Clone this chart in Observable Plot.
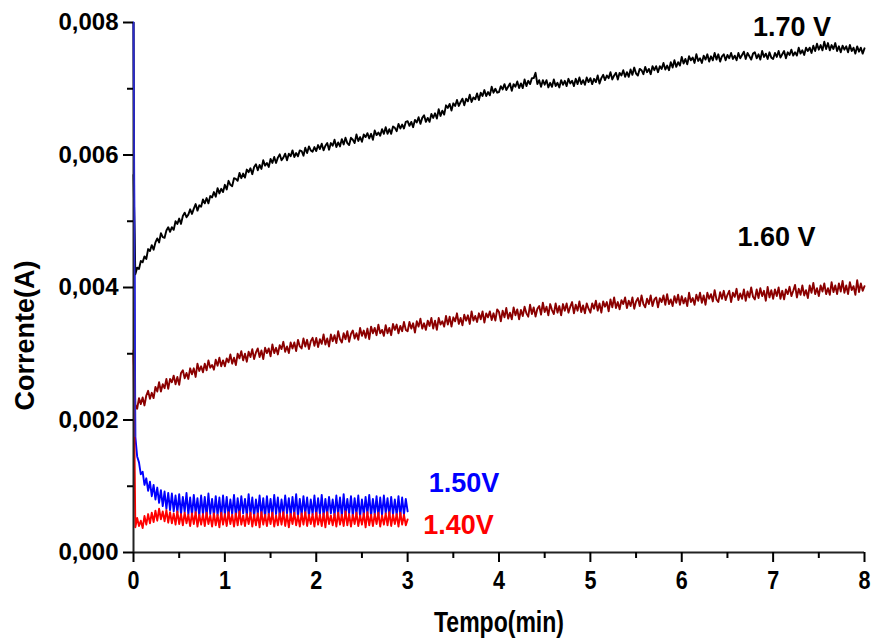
<!DOCTYPE html>
<html>
<head>
<meta charset="utf-8">
<script src="https://cdn.jsdelivr.net/npm/d3@7"></script>
<script src="https://cdn.jsdelivr.net/npm/@observablehq/plot@0.6"></script>
<style>
  html, body { margin: 0; padding: 0; background: #fff; }
</style>
</head>
<body>
<div id="chart"></div>
<script>
// sampling step of the recorded curves (min)
const step = 0.02;

// Corrente (mA), one value every 0.02 min (row = 1 min)
const v170 = [
  5.70,4.20,4.30,4.28,4.40,4.38,4.47,4.43,4.58,4.55,4.64,4.57,4.68,4.74,4.68,4.82,4.76,4.75,4.86,4.91,4.84,4.91,4.87,5.00,4.96,
  5.04,4.96,5.08,5.13,5.06,5.10,5.18,5.11,5.19,5.26,5.16,5.24,5.22,5.33,5.27,5.35,5.27,5.38,5.36,5.44,5.37,5.50,5.42,5.49,5.44,
  5.55,5.48,5.61,5.55,5.53,5.65,5.64,5.61,5.73,5.65,5.72,5.66,5.78,5.74,5.80,5.71,5.82,5.86,5.77,5.85,5.79,5.92,5.84,5.88,5.82,
  5.94,5.88,5.97,5.88,5.96,6.01,5.92,5.96,6.02,5.92,6.02,5.98,6.07,5.97,6.03,5.98,6.07,6.06,5.99,6.11,6.03,6.13,6.07,6.05,6.12,
  6.06,6.15,6.09,6.17,6.07,6.14,6.18,6.08,6.18,6.14,6.23,6.12,6.19,6.13,6.24,6.16,6.26,6.18,6.15,6.26,6.23,6.18,6.31,6.21,6.27,
  6.20,6.31,6.27,6.33,6.25,6.32,6.23,6.37,6.30,6.34,6.29,6.39,6.32,6.42,6.32,6.39,6.32,6.43,6.41,6.36,6.47,6.40,6.46,6.40,6.50,
  6.51,6.44,6.50,6.42,6.53,6.49,6.57,6.47,6.56,6.60,6.50,6.56,6.50,6.62,6.56,6.63,6.55,6.69,6.59,6.67,6.61,6.75,6.71,6.77,6.67,
  6.78,6.74,6.83,6.74,6.80,6.85,6.75,6.85,6.81,6.91,6.80,6.87,6.84,6.93,6.83,6.94,6.89,6.98,6.89,6.95,6.90,7.03,6.94,7.00,6.94,
  6.95,7.04,6.99,7.07,6.98,7.03,7.08,6.97,7.07,7.03,7.11,7.01,7.08,7.01,7.14,7.04,7.12,7.07,7.16,7.16,7.24,7.07,7.13,7.03,7.13,
  7.06,7.13,7.02,7.09,7.03,7.14,7.04,7.09,7.02,7.13,7.06,7.12,7.04,7.15,7.08,7.12,7.04,7.15,7.07,7.17,7.07,7.13,7.06,7.17,7.10,
  7.16,7.07,7.15,7.10,7.20,7.08,7.16,7.21,7.13,7.20,7.16,7.25,7.14,7.20,7.24,7.14,7.24,7.20,7.28,7.18,7.25,7.18,7.29,7.21,7.32,
  7.23,7.20,7.30,7.28,7.22,7.33,7.25,7.30,7.22,7.34,7.28,7.34,7.25,7.34,7.30,7.39,7.29,7.35,7.28,7.40,7.32,7.43,7.33,7.40,7.35,
  7.48,7.38,7.45,7.37,7.49,7.43,7.47,7.39,7.52,7.42,7.46,7.39,7.50,7.44,7.52,7.41,7.49,7.43,7.54,7.44,7.52,7.41,7.49,7.52,7.43,
  7.51,7.46,7.54,7.45,7.50,7.43,7.54,7.46,7.51,7.56,7.45,7.54,7.49,7.44,7.53,7.55,7.46,7.52,7.44,7.57,7.48,7.53,7.45,7.55,7.47,
  7.45,7.54,7.48,7.57,7.47,7.52,7.57,7.46,7.55,7.51,7.59,7.50,7.55,7.50,7.62,7.53,7.58,7.51,7.62,7.57,7.62,7.54,7.65,7.57,7.68,
  7.59,7.66,7.58,7.71,7.60,7.69,7.58,7.66,7.60,7.69,7.57,7.64,7.55,7.65,7.59,7.64,7.55,7.66,7.57,7.62,7.53,7.64,7.56,7.62,7.53,
  7.61
];
const v160 = [
  3.00,2.23,2.17,2.33,2.24,2.34,2.22,2.37,2.44,2.32,2.41,2.33,2.50,2.43,2.57,2.43,2.54,2.48,2.62,2.47,2.62,2.57,2.67,2.54,2.65,
  2.53,2.71,2.75,2.63,2.71,2.62,2.78,2.69,2.78,2.65,2.85,2.74,2.81,2.72,2.85,2.75,2.90,2.79,2.83,2.76,2.91,2.82,2.94,2.81,2.90,
  2.81,2.93,2.87,2.99,2.85,2.94,2.83,3.00,2.93,3.04,2.90,3.00,2.88,3.03,2.95,3.07,2.92,3.02,3.08,2.95,3.05,2.92,3.09,3.01,3.08,
  2.96,3.14,3.01,3.09,2.99,3.13,3.07,3.18,3.03,3.11,3.01,3.17,3.08,3.17,3.04,3.21,3.11,3.08,3.23,3.11,3.21,3.07,3.19,3.24,3.12,
  3.24,3.10,3.22,3.15,3.29,3.14,3.23,3.11,3.29,3.19,3.28,3.16,3.34,3.22,3.17,3.31,3.22,3.34,3.18,3.30,3.35,3.23,3.31,3.21,3.39,
  3.27,3.35,3.24,3.38,3.22,3.41,3.31,3.39,3.28,3.44,3.31,3.36,3.27,3.43,3.31,3.39,3.28,3.45,3.36,3.44,3.31,3.42,3.34,3.48,3.36,
  3.34,3.48,3.38,3.46,3.32,3.49,3.41,3.53,3.38,3.46,3.36,3.50,3.42,3.54,3.38,3.50,3.36,3.54,3.44,3.49,3.41,3.57,3.44,3.56,3.41,
  3.55,3.49,3.61,3.45,3.54,3.43,3.59,3.50,3.58,3.45,3.64,3.50,3.57,3.48,3.61,3.52,3.64,3.47,3.61,3.55,3.64,3.51,3.61,3.50,3.67,
  3.63,3.49,3.65,3.55,3.69,3.53,3.62,3.52,3.70,3.58,3.67,3.52,3.66,3.57,3.71,3.61,3.56,3.74,3.60,3.70,3.56,3.68,3.72,3.59,3.77,
  3.63,3.71,3.58,3.75,3.66,3.60,3.76,3.62,3.72,3.58,3.75,3.65,3.76,3.62,3.71,3.78,3.61,3.74,3.65,3.79,3.63,3.73,3.61,3.76,3.68,
  3.62,3.76,3.68,3.80,3.65,3.76,3.62,3.79,3.71,3.78,3.64,3.82,3.70,3.85,3.69,3.78,3.67,3.81,3.75,3.85,3.69,3.80,3.72,3.85,3.68,
  3.79,3.84,3.72,3.88,3.75,3.70,3.83,3.75,3.88,3.72,3.82,3.85,3.70,3.84,3.78,3.88,3.74,3.90,3.75,3.82,3.72,3.87,3.77,3.89,3.74,
  3.87,3.76,3.84,3.72,3.92,3.78,3.84,3.74,3.89,3.80,3.92,3.77,3.88,3.74,3.92,3.83,3.90,3.79,3.96,3.82,3.78,3.93,3.83,3.95,3.81,
  3.89,3.95,3.78,3.92,3.86,3.98,3.81,3.91,3.83,3.97,3.80,3.94,3.85,4.00,3.86,3.82,3.97,3.84,3.99,3.87,3.95,3.80,4.01,3.85,3.96,
  3.83,3.97,3.87,4.00,3.83,3.95,3.82,3.97,3.90,4.01,3.87,3.95,4.04,3.85,3.98,3.89,4.03,3.88,3.96,3.84,4.03,3.92,4.07,3.90,3.99,
  3.87,4.03,3.94,4.06,3.90,3.99,3.89,4.08,3.93,4.03,3.90,4.06,3.94,4.10,3.92,4.03,3.90,4.08,3.96,4.02,3.89,4.11,3.93,4.06,3.95,
  4.02
];
const v150 = [
  8.00,1.75,1.45,1.36,1.18,1.22,1.02,1.12,0.93,1.07,0.85,1.02,0.80,0.98,0.75,0.94,0.70,0.92,0.66,0.90,0.64,0.89,0.62,0.86,0.60,
  0.88,0.58,0.84,0.61,0.90,0.57,0.83,0.56,0.87,0.59,0.82,0.55,0.86,0.57,0.84,0.54,0.89,0.58,0.81,0.55,0.85,0.56,0.83,0.53,0.86,
  0.57,0.84,0.55,0.80,0.58,0.87,0.54,0.82,0.56,0.85,0.59,0.81,0.55,0.88,0.57,0.83,0.54,0.80,0.58,0.86,0.56,0.82,0.53,0.85,0.57,
  0.81,0.55,0.87,0.58,0.83,0.54,0.80,0.56,0.86,0.59,0.82,0.55,0.84,0.57,0.88,0.54,0.81,0.56,0.85,0.58,0.83,0.55,0.80,0.57,0.86,
  0.55,0.82,0.58,0.87,0.54,0.81,0.56,0.84,0.59,0.80,0.55,0.86,0.57,0.83,0.54,0.88,0.56,0.81,0.58,0.85,0.55,0.82,0.57,0.86,0.54,
  0.80,0.56,0.84,0.58,0.87,0.55,0.81,0.57,0.85,0.54,0.83,0.56,0.86,0.59,0.82,0.55,0.84,0.57,0.80,0.56,0.85,0.54,0.83,0.57,0.81,
  0.62
];
const v140 = [
  3.05,0.38,0.52,0.40,0.48,0.37,0.55,0.42,0.58,0.44,0.60,0.46,0.63,0.48,0.66,0.50,0.62,0.47,0.64,0.45,0.61,0.44,0.59,0.42,0.62,
  0.43,0.58,0.41,0.60,0.44,0.57,0.40,0.59,0.43,0.61,0.39,0.57,0.42,0.58,0.40,0.60,0.43,0.56,0.39,0.59,0.41,0.57,0.38,0.60,0.42,
  0.58,0.40,0.61,0.43,0.57,0.39,0.59,0.41,0.62,0.42,0.56,0.40,0.58,0.43,0.60,0.39,0.57,0.41,0.59,0.38,0.61,0.42,0.57,0.40,0.58,
  0.43,0.60,0.39,0.56,0.41,0.59,0.42,0.61,0.40,0.57,0.38,0.58,0.43,0.60,0.41,0.56,0.39,0.59,0.42,0.61,0.40,0.57,0.43,0.58,0.39,
  0.60,0.42,0.57,0.40,0.59,0.38,0.61,0.43,0.56,0.41,0.58,0.39,0.60,0.42,0.57,0.40,0.62,0.41,0.58,0.39,0.57,0.43,0.60,0.40,0.56,
  0.42,0.59,0.38,0.61,0.41,0.57,0.40,0.58,0.43,0.60,0.39,0.56,0.42,0.59,0.41,0.61,0.40,0.57,0.43,0.58,0.39,0.60,0.42,0.57,0.41,
  0.50
];

// series labels
const labelText  = ["1.70 V", "1.60 V", "1.50V", "1.40V"];
const labelT     = [6.78, 6.61, 3.23, 3.17];
const labelI     = [7.92, 4.75, 1.05, 0.41];
const labelColor = ["#000000", "#000000", "#0000ff", "#ff0000"];

// axis ticks
const xTicks = [0, 1, 2, 3, 4, 5, 6, 7, 8];
const xMinor = [0.5, 1.5, 2.5, 3.5, 4.5, 5.5, 6.5, 7.5];
const yTicks = [0, 0.002, 0.004, 0.006, 0.008];
const yMinor = [0.001, 0.003, 0.005, 0.007];

const toPts = arr => arr.map((v, i) => ({t: i * step, I: v / 1000}));
const labels = labelText.map((s, i) => ({s, t: labelT[i], I: labelI[i] / 1000, c: labelColor[i]}));
const fmt = d => d3.format(".3f")(d).replace(".", ",");

const chart = Plot.plot({
  width: 872,
  height: 641,
  marginLeft: 133,
  marginRight: 8,
  marginTop: 22,
  marginBottom: 89,
  x: {domain: [0, 8]},
  y: {domain: [0, 0.008]},
  style: {
    fontFamily: "'Liberation Sans', Arial, sans-serif",
    fontSize: "24px",
    fontWeight: "bold",
    background: "#fff",
    color: "#000",
    overflow: "visible"
  },
  marks: [
    Plot.line(toPts(v150), {x: "t", y: "I", stroke: "#0000ff", strokeWidth: 1.9}),
    Plot.line(toPts(v170), {x: "t", y: "I", stroke: "#000000", strokeWidth: 1.9}),
    Plot.line(toPts(v160), {x: "t", y: "I", stroke: "#8b0000", strokeWidth: 1.9}),
    Plot.line(toPts(v140), {x: "t", y: "I", stroke: "#ff0000", strokeWidth: 1.9}),
    Plot.ruleY([0], {stroke: "#222", strokeWidth: 2}),
    Plot.ruleX([0], {stroke: "#222", strokeWidth: 2}),
    Plot.line(toPts(v150).slice(0, 2), {x: "t", y: "I", stroke: "#2a2acc", strokeWidth: 1.6}),
    Plot.axisX({ticks: xTicks, tickSize: 10, tickPadding: 8, strokeWidth: 2, tickFormat: d => String(d), label: null, fontSize: 26}),
    Plot.axisX({ticks: xMinor, tickSize: 6, strokeWidth: 2, text: null, label: null}),
    Plot.axisY({ticks: yTicks, tickSize: 10, tickPadding: 5, strokeWidth: 2, tickFormat: fmt, label: null, fontSize: 24}),
    Plot.axisY({ticks: yMinor, tickSize: 6, strokeWidth: 2, text: null, label: null}),
    Plot.text(labels, {x: "t", y: "I", text: "s", fill: "c", textAnchor: "start", fontSize: 27, fontWeight: "bold"}),
    Plot.text(["Tempo(min)"], {frameAnchor: "bottom", textAnchor: "middle", lineAnchor: "middle", dy: 70, fontSize: 29, fontWeight: "bold"}),
    Plot.text(["Corrente(A)"], {frameAnchor: "left", textAnchor: "middle", lineAnchor: "middle", dx: -108, dy: 48, rotate: -90, fontSize: 27, fontWeight: "bold"})
  ]
});
document.getElementById("chart").appendChild(chart);

// the original figure uses a condensed face for the x-axis texts
d3.select(chart).selectAll("text").each(function() {
  const s = this.textContent;
  if (s === "Tempo(min)") {
    d3.select(this).attr("textLength", 130).attr("lengthAdjust", "spacingAndGlyphs");
  } else if (/^[0-8]$/.test(s)) {
    d3.select(this).attr("textLength", 12).attr("lengthAdjust", "spacingAndGlyphs");
  }
});
</script>
</body>
</html>
